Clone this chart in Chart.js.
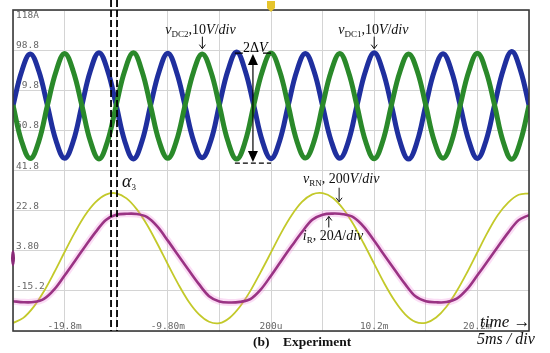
<!DOCTYPE html>
<html>
<head>
<meta charset="utf-8">
<script src="https://cdn.jsdelivr.net/npm/chart.js@4.4.0/dist/chart.umd.min.js"></script>
<style>
body { margin: 0; background: #fff; }
#wrap { width: 550px; height: 353px; position: relative; }
</style>
</head>
<body>
<div id="wrap"><canvas id="scope"></canvas></div>
<script>
// scope grid: 5 ms/div horizontally, 8 vertical divisions
var gridTimes = [-24.8, -19.8, -14.8, -9.8, -4.8, 0.2, 5.2, 10.2, 15.2, 20.2, 25.2];
var timeLabelAt = [-19.8, -9.8, 0.2, 10.2, 20.2];
var timeLabels = ["-19.8m", "-9.80m", "200u", "10.2m", "20.2m"];
var gridLevels = [-34.2, -15.2, 3.8, 22.8, 41.8, 60.8, 79.8, 98.8, 117.8];
var levelLabelAt = [117.8, 98.8, 79.8, 60.8, 41.8, 22.8, 3.8, -15.2];
var levelLabels = ["118A", "98.8", "79.8", "60.8", "41.8", "22.8", "3.80", "-15.2"];

// capacitor voltages (upper traces)
var dcTime = [-24.80, -23.97, -23.13, -22.30, -21.47, -20.63, -19.80, -18.97, -18.13, -17.30,
  -16.47, -15.63, -14.80, -13.97, -13.13, -12.30, -11.47, -10.63, -9.80, -8.97,
  -8.13, -7.30, -6.47, -5.63, -4.80, -3.97, -3.13, -2.30, -1.47, -0.63,
  0.20, 1.03, 1.87, 2.70, 3.53, 4.37, 5.20, 6.03, 6.87, 7.70,
  8.53, 9.37, 10.20, 11.03, 11.87, 12.70, 13.53, 14.37, 15.20, 16.03,
  16.87, 17.70, 18.53, 19.37, 20.20, 21.03, 21.87, 22.70, 23.53, 24.37, 25.20];
var vDC1 = [72.4, 88.6, 97.0, 88.9, 72.7, 55.9, 47.6, 55.5,
  72.5, 89.0, 97.6, 89.1, 72.8, 55.7, 47.3, 55.6,
  72.6, 88.8, 97.3, 88.7, 72.5, 55.8, 47.8, 55.9,
  72.9, 89.2, 97.9, 89.0, 72.6, 55.6, 47.4, 55.7,
  72.7, 88.9, 97.2, 88.8, 72.4, 55.8, 47.6, 55.6,
  72.6, 89.0, 97.5, 89.0, 72.7, 55.5, 47.2, 55.6,
  72.8, 88.9, 97.1, 88.8, 72.6, 55.9, 47.5, 55.8,
  73.0, 89.4, 98.2, 89.3, 72.8];
var vDC2 = [72.8, 55.7, 47.5, 55.6, 72.5, 88.7, 97.2, 88.9,
  72.6, 55.6, 47.3, 55.8, 72.7, 89.0, 97.5, 88.8,
  72.4, 55.5, 47.6, 55.7, 72.6, 88.6, 97.0, 88.7,
  72.5, 55.6, 47.2, 55.5, 72.7, 88.9, 97.4, 89.0,
  72.6, 55.8, 47.7, 55.6, 72.6, 88.8, 97.2, 88.6,
  72.4, 55.5, 47.4, 55.7, 72.8, 88.7, 97.0, 88.9,
  72.6, 55.6, 47.6, 55.5, 72.5, 88.8, 97.3, 88.9,
  72.6, 55.4, 47.1, 55.6, 72.7];

// phase voltage and current (lower traces)
var acTime = [-24.8, -23.8, -22.8, -21.8, -20.8, -19.8, -18.8, -17.8, -16.8, -15.8,
  -14.8, -13.8, -12.8, -11.8, -10.8, -9.8, -8.8, -7.8, -6.8, -5.8,
  -4.8, -3.8, -2.8, -1.8, -0.8, 0.2, 1.2, 2.2, 3.2, 4.2,
  5.2, 6.2, 7.2, 8.2, 9.2, 10.2, 11.2, 12.2, 13.2, 14.2,
  15.2, 16.2, 17.2, 18.2, 19.2, 20.2, 21.2, 22.2, 23.2, 24.2, 25.2];
var vRN = [-30.4, -28.0, -22.8, -15.4, -6.4, 3.2, 12.5, 20.7, 26.8, 30.4,
  31.0, 28.6, 23.4, 16.0, 7.0, -2.6, -11.9, -20.1, -26.2, -29.8,
  -30.5, -27.9, -22.6, -15.2, -6.3, 3.0, 12.4, 20.6, 26.9, 30.5,
  31.1, 28.8, 23.6, 16.2, 7.1, -2.4, -11.8, -20.0, -26.3, -29.9,
  -30.3, -27.8, -22.7, -15.3, -6.5, 3.1, 12.6, 20.8, 26.7, 30.3, 31.0];
var iR = [-20.1, -20.6, -20.5, -19.0, -14.5, -7.9, -1.0, 5.9, 12.6, 18.4,
  20.8, 21.3, 21.2, 19.7, 15.2, 8.6, 1.7, -5.2, -11.9, -17.7,
  -20.2, -20.7, -20.4, -19.1, -14.6, -8.0, -0.9, 6.0, 12.7, 18.5,
  20.9, 21.4, 21.1, 19.6, 15.1, 8.5, 1.6, -5.3, -12.0, -17.8,
  -20.1, -20.6, -20.5, -18.9, -14.4, -7.8, -1.1, 5.8, 12.5, 18.3, 20.7];

// annotation anchors (time ms, level)
var alphaTimes = [-15.3, -14.72];
var dvTime = -1.55, dvTop = 97.4, dvBottom = 45.3, dvHalf = 1.75;
var dc2ArrowTime = -6.45, dc1ArrowTime = 10.2, dcArrowLevel = 99.5;
var rnArrowTime = 6.8, rnArrowLevel = 27.0;
var irArrowTime = 5.8, irArrowLevel = 20.5;

function pts(xs, ys) {
  return xs.map(function (t, i) { return { x: t, y: ys[i] }; });
}

function drawRich(ctx, x, y, parts) {
  parts.forEach(function (p) {
    var size = p.size || (p.sub ? 9 : 14);
    ctx.font = (p.bold ? 'bold ' : '') + (p.it ? 'italic ' : '') + size + 'px "Liberation Serif"';
    ctx.fillText(p.t, x, y + (p.sub ? 3 : 0));
    x += ctx.measureText(p.t).width;
  });
}

function arrow(ctx, x, y0, y1) {
  // thin line arrow from y0 to tip at y1
  var d = y1 > y0 ? -1 : 1;
  ctx.beginPath();
  ctx.moveTo(x, y0); ctx.lineTo(x, y1);
  ctx.moveTo(x - 3, y1 + d * 4); ctx.lineTo(x, y1); ctx.lineTo(x + 3, y1 + d * 4);
  ctx.stroke();
}

var scopeDecor = {
  id: 'scopeDecor',
  beforeDatasetsDraw: function (chart) {
    var ctx = chart.ctx, a = chart.chartArea, xs = chart.scales.x, ys = chart.scales.y;
    ctx.save();
    ctx.fillStyle = '#666';
    ctx.font = '9.5px "DejaVu Sans Mono"';
    ctx.textAlign = 'left';
    ctx.textBaseline = 'alphabetic';
    levelLabels.forEach(function (lb, i) {
      var y = ys.getPixelForValue(levelLabelAt[i]);
      ctx.fillText(lb, a.left + 3, i === 0 ? y + 8 : y - 2);
    });
    ctx.textAlign = 'center';
    timeLabels.forEach(function (lb, i) {
      ctx.fillText(lb, xs.getPixelForValue(timeLabelAt[i]), a.bottom - 2);
    });
    ctx.restore();
  },
  afterDraw: function (chart) {
    var ctx = chart.ctx, a = chart.chartArea, xs = chart.scales.x, ys = chart.scales.y;
    ctx.save();
    // frame
    ctx.strokeStyle = '#3a3a3a';
    ctx.lineWidth = 1.6;
    ctx.strokeRect(a.left, a.top, a.right - a.left, a.bottom - a.top);

    // trigger marker
    var tx = xs.getPixelForValue(0.2);
    ctx.fillStyle = '#e6c42c';
    ctx.beginPath();
    ctx.moveTo(tx - 4, a.top - 9); ctx.lineTo(tx + 4, a.top - 9);
    ctx.lineTo(tx + 4, a.top - 2); ctx.lineTo(tx, a.top + 2); ctx.lineTo(tx - 4, a.top - 2);
    ctx.closePath(); ctx.fill();

    // current channel ground marker
    ctx.fillStyle = '#8a2a78';
    ctx.beginPath();
    ctx.ellipse(a.left, ys.getPixelForValue(0.3), 2, 8, 0, 0, Math.PI * 2);
    ctx.fill();

    // alpha dashed lines
    ctx.strokeStyle = '#000';
    ctx.lineWidth = 1.8;
    ctx.setLineDash([7, 3]);
    alphaTimes.forEach(function (t) {
      var x = xs.getPixelForValue(t);
      ctx.beginPath(); ctx.moveTo(x, 0); ctx.lineTo(x, a.bottom); ctx.stroke();
    });

    // 2dV marker
    var dx = xs.getPixelForValue(dvTime);
    var yT = ys.getPixelForValue(dvTop), yB = ys.getPixelForValue(dvBottom);
    var hw = xs.getPixelForValue(dvTime + dvHalf) - dx;
    ctx.lineWidth = 1.3;
    ctx.setLineDash([5, 3]);
    ctx.beginPath(); ctx.moveTo(dx - hw, yB); ctx.lineTo(dx + hw, yB); ctx.stroke();
    ctx.setLineDash([]);
    ctx.beginPath();
    ctx.moveTo(dx - hw, yT); ctx.lineTo(dx - hw + 8, yT);
    ctx.moveTo(dx + hw - 8, yT); ctx.lineTo(dx + hw, yT);
    ctx.stroke();
    ctx.lineWidth = 1.2;
    ctx.beginPath(); ctx.moveTo(dx, yT + 10); ctx.lineTo(dx, yB - 10); ctx.stroke();
    ctx.fillStyle = '#000';
    ctx.beginPath(); ctx.moveTo(dx, yT + 1); ctx.lineTo(dx - 5, yT + 12); ctx.lineTo(dx + 5, yT + 12); ctx.closePath(); ctx.fill();
    ctx.beginPath(); ctx.moveTo(dx, yB - 1); ctx.lineTo(dx - 5, yB - 12); ctx.lineTo(dx + 5, yB - 12); ctx.closePath(); ctx.fill();
    ctx.textBaseline = 'alphabetic';
    drawRich(ctx, dx - 10, yT - 1, [{ t: '2\u0394' }, { t: 'V', it: true }]);

    // channel labels
    ctx.lineWidth = 1;
    ctx.strokeStyle = '#111';
    ctx.fillStyle = '#111';
    var ax = xs.getPixelForValue(dc2ArrowTime), ay = ys.getPixelForValue(dcArrowLevel);
    arrow(ctx, ax, ay - 12, ay);
    drawRich(ctx, ax - 37, ay - 15, [{ t: 'v', it: true }, { t: 'DC2', sub: true }, { t: ',10' }, { t: 'V', it: true }, { t: '/' }, { t: 'div', it: true }]);
    ax = xs.getPixelForValue(dc1ArrowTime);
    arrow(ctx, ax, ay - 12, ay);
    drawRich(ctx, ax - 36, ay - 15, [{ t: 'v', it: true }, { t: 'DC1', sub: true }, { t: ',10' }, { t: 'V', it: true }, { t: '/' }, { t: 'div', it: true }]);

    ax = xs.getPixelForValue(rnArrowTime); ay = ys.getPixelForValue(rnArrowLevel);
    arrow(ctx, ax, ay - 14, ay);
    drawRich(ctx, ax - 36, ay - 19, [{ t: 'v', it: true }, { t: 'RN', sub: true }, { t: ', 200' }, { t: 'V', it: true }, { t: '/' }, { t: 'div', it: true }]);
    ax = xs.getPixelForValue(irArrowTime); ay = ys.getPixelForValue(irArrowLevel);
    arrow(ctx, ax, ay + 12, ay + 1);
    drawRich(ctx, ax - 26, ay + 25, [{ t: 'i', it: true }, { t: 'R', sub: true }, { t: ', 20' }, { t: 'A', it: true }, { t: '/' }, { t: 'div', it: true }]);

    // alpha label
    drawRich(ctx, xs.getPixelForValue(alphaTimes[1]) + 5, 187, [{ t: '\u03b1', it: true, size: 18 }, { t: '3', sub: true }]);

    // time base and caption
    drawRich(ctx, 480, 327, [{ t: 'time \u2192', it: true, size: 17 }]);
    drawRich(ctx, 477, 344, [{ t: '5ms / div', it: true, size: 16 }]);
    drawRich(ctx, 253, 346, [{ t: '(b)', bold: true, size: 13.5 }]);
    drawRich(ctx, 283, 346, [{ t: 'Experiment', bold: true, size: 13.5 }]);
    ctx.restore();
  }
};

var ctx = document.getElementById('scope');
var myChart = new Chart(ctx, {
  type: 'line',
  data: {
    datasets: [{
      label: 'vDC2',
      data: pts(dcTime, vDC2),
      borderColor: '#2a892a',
      borderWidth: 5,
      tension: 0.4
    }, {
      label: 'vDC1',
      data: pts(dcTime, vDC1),
      borderColor: '#1f2f9e',
      borderWidth: 5,
      tension: 0.4
    }, {
      label: 'iR halo',
      data: pts(acTime, iR),
      borderColor: 'rgba(238, 120, 215, 0.25)',
      borderWidth: 7,
      tension: 0.35
    }, {
      label: 'iR',
      data: pts(acTime, iR),
      borderColor: '#7e1c68',
      borderWidth: 2.6,
      tension: 0.35
    }, {
      label: 'vRN',
      data: pts(acTime, vRN),
      borderColor: '#c3c92a',
      borderWidth: 1.8,
      tension: 0.35
    }]
  },
  options: {
    responsive: true,
    maintainAspectRatio: false,
    animation: false,
    layout: { padding: { left: 13, top: 10, right: 21, bottom: 22 } },
    elements: { point: { radius: 0 } },
    plugins: { legend: { display: false }, tooltip: { enabled: false } },
    scales: {
      x: {
        type: 'linear',
        min: -24.8,
        max: 25.2,
        afterBuildTicks: function (s) { s.ticks = gridTimes.map(function (v) { return { value: v }; }); },
        ticks: { display: false },
        grid: { color: '#d4d4d4', drawTicks: false },
        border: { display: false }
      },
      y: {
        min: -34.2,
        max: 117.8,
        afterBuildTicks: function (s) { s.ticks = gridLevels.map(function (v) { return { value: v }; }); },
        ticks: { display: false },
        grid: { color: '#d4d4d4', drawTicks: false },
        border: { display: false }
      }
    }
  },
  plugins: [scopeDecor]
});
</script>
</body>
</html>
